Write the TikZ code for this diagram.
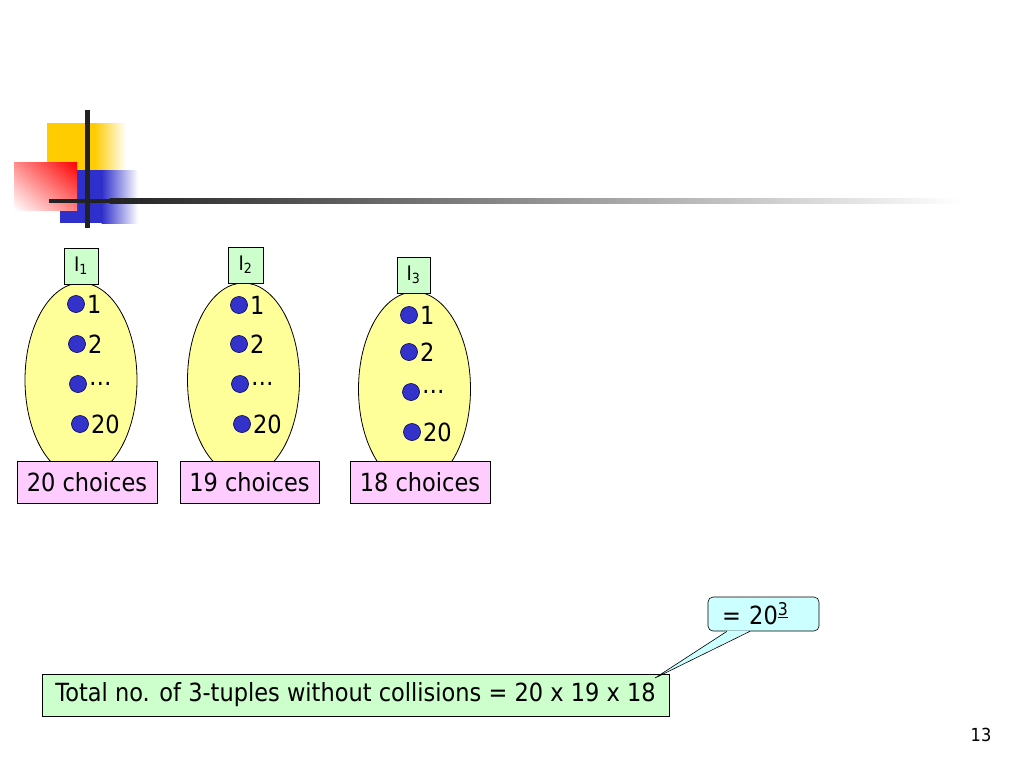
\documentclass[tikz,border=0pt]{standalone}
\usepackage{fontspec}
\setmainfont{DejaVu Sans}[FakeStretch=0.9]
\usetikzlibrary{shapes.geometric,shadings}
\definecolor{ylw}{HTML}{FFFF99}
\definecolor{dotblue}{HTML}{3333CC}
\definecolor{dotedge}{HTML}{101060}
\definecolor{pinkbox}{HTML}{FFCCFF}
\definecolor{greenbox}{HTML}{CCFFCC}
\definecolor{cyanbox}{HTML}{CCFFFF}
\definecolor{decoyellow}{HTML}{FFCC00}
\definecolor{decoblue}{HTML}{2F2FCC}
\definecolor{linedark}{HTML}{222222}
\tikzset{
  bag/.style={ellipse, draw=black, line width=0.8pt, fill=ylw, minimum width=112pt, minimum height=194pt, inner sep=0pt},
  idbox/.style={rectangle, draw=black, line width=0.6pt, fill=greenbox, minimum width=34pt, minimum height=36pt, inner sep=0pt, font=\fontsize{20}{24}\selectfont},
  choicebox/.style={rectangle, draw=black, line width=0.6pt, fill=pinkbox, minimum width=140pt, minimum height=42pt, inner sep=0pt, font=\fontsize{25}{30}\selectfont},
  elem/.style={circle, draw=dotedge, line width=0.7pt, fill=dotblue, minimum size=17pt, inner sep=0pt},
  elemlabel/.style={anchor=west, inner sep=2pt, font=\fontsize{25}{30}\selectfont},
  totalbox/.style={rectangle, draw=black, line width=0.6pt, fill=greenbox, minimum width=627pt, minimum height=42pt, inner sep=0pt, font=\fontsize{25}{30}\selectfont},
  calloutbox/.style={rectangle, rounded corners=5pt, draw=black, line width=0.6pt, fill=cyanbox, text width=83pt, minimum height=34pt, inner xsep=14pt, inner ysep=0pt, align=left, font=\fontsize{25}{30}\selectfont},
}
\begin{document}
\begin{tikzpicture}[x=1pt,y=-1pt]
\useasboundingbox (0,0) rectangle (1024,768);
% decoration
\fill[decoyellow] (47,123) rectangle (95,170);
\shade[left color=decoyellow, right color=white] (94.5,123) rectangle (126,170);
\fill[decoblue] (60,170) rectangle (102,223);
\shade[left color=decoblue, right color=white] (101.5,170) rectangle (138,223);
\shade[upper right=red, lower left=white, upper left=red!45!white, lower right=red!50!white] (14,162) rectangle (77,210);
\fill[linedark] (85,110) rectangle (89.5,228);
\fill[linedark] (49,198.7) rectangle (110,203.3);
\shade[left color=linedark, right color=white] (109.5,198.7) rectangle (960,203.3);
% bags
\node[bag] (e1) at (81,380) {};
\node[bag] (e2) at (243.5,380) {};
\node[bag] (e3) at (414.5,389) {};
\node[idbox] (l1) at (81,266) {I\textsubscript{1}};
\node[idbox, minimum width=35pt] (l2) at (245.5,265) {I\textsubscript{2}};
\node[idbox, minimum width=33pt] (l3) at (413.5,275) {I\textsubscript{3}};
% elements
\node[elem] (a1) at (76,304) {}; \node[elemlabel] at (a1.east) {1};
\node[elem] (a2) at (77,344) {}; \node[elemlabel] at (a2.east) {2};
\node[elem] (a3) at (78,384) {}; \node[elemlabel] at (a3.east) {…};
\node[elem] (a4) at (80,424) {}; \node[elemlabel] at (a4.east) {20};
\node[elem] (b1) at (239,305) {}; \node[elemlabel] at (b1.east) {1};
\node[elem] (b2) at (239,344) {}; \node[elemlabel] at (b2.east) {2};
\node[elem] (b3) at (240,384) {}; \node[elemlabel] at (b3.east) {…};
\node[elem] (b4) at (242,424) {}; \node[elemlabel] at (b4.east) {20};
\node[elem] (c1) at (409,315) {}; \node[elemlabel] at (c1.east) {1};
\node[elem] (c2) at (409,352) {}; \node[elemlabel] at (c2.east) {2};
\node[elem] (c3) at (411,392) {}; \node[elemlabel] at (c3.east) {…};
\node[elem] (c4) at (412,432) {}; \node[elemlabel] at (c4.east) {20};
% choice boxes
\node[choicebox] (k1) at (87,482) {20 choices};
\node[choicebox, minimum width=139pt] (k2) at (249.5,482) {19 choices};
\node[choicebox] (k3) at (420,482) {18 choices};
% total and callout
\node[totalbox] (total) at (355.5,695) {Total no. of 3-tuples without collisions = 20 x 19 x 18};
\node[calloutbox] (eq) at (763.5,614) {= 20\textsuperscript{\underline{3}}};
\coordinate (tip) at (655,678);
\fill[cyanbox] ([xshift=-36.5pt,yshift=0.8pt]eq.south) -- (tip) -- ([xshift=-13.5pt,yshift=0.8pt]eq.south) -- cycle;
\draw[line width=0.6pt] ([xshift=-36.5pt]eq.south) -- (tip) -- ([xshift=-13.5pt]eq.south);
% page number
\node[font=\fontsize{18}{22}\selectfont] (pg) at (981,735) {13};
\end{tikzpicture}
\end{document}
